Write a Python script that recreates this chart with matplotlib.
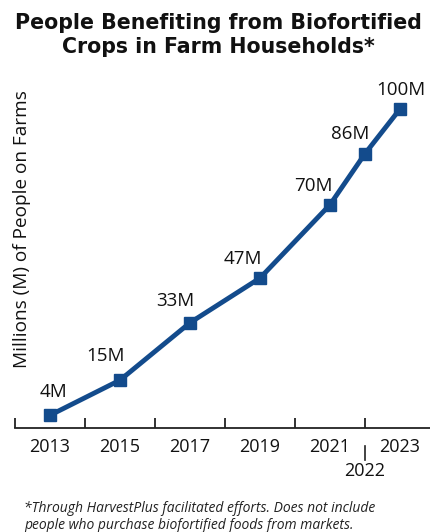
import matplotlib.pyplot as plt
from matplotlib.transforms import blended_transform_factory

years = [2013, 2015, 2017, 2019, 2021, 2022, 2023]
people = [4, 15, 33, 47, 70, 86, 100]
point_labels = ["4M", "15M", "33M", "47M", "70M", "86M", "100M"]
label_offsets = [(3, 23), (-14, 24), (-15, 22), (-17, 19), (-17, 19), (-15, 20), (1, 19)]
odd_years = [2013, 2015, 2017, 2019, 2021, 2023]
even_years = [2012, 2014, 2016, 2018, 2020, 2022]

blue = "#134b8c"
plt.rcParams['font.family'] = ['Open Sans', 'DejaVu Sans']

fig = plt.figure(figsize=(4.3, 5.32), dpi=100)
W, H = 430, 532
ax = fig.add_axes([15 / W, (H - 428) / H, (W - 15) / W, (428 - 80) / H])

ax.plot(years, people, color=blue, lw=3.5, marker='s', ms=8.5, mec=blue, mfc=blue)
for x, y, t, off in zip(years, people, point_labels, label_offsets):
    ax.annotate(t, (x, y), xytext=off, textcoords='offset pixels',
                ha='center', va='center', fontsize=13.5, color='#111111')

ax.set_xlim(2012, 2012 + (W - 15) / 35)
ax.set_ylim(0, (428 - 80) / 3.19)

for s in ['top', 'right', 'left']:
    ax.spines[s].set_visible(False)
ax.spines['bottom'].set_linewidth(1.3)
ax.spines['bottom'].set_color('#222222')
ax.set_yticks([])

ax.set_xticks(even_years)
ax.set_xticklabels([])
ax.tick_params(axis='x', which='major', direction='in', length=7, width=1.3, color='#222222')
ax.set_xticks(odd_years, minor=True)
ax.set_xticklabels([str(y) for y in odd_years], minor=True)
ax.tick_params(axis='x', which='minor', length=0, pad=7, labelsize=13, labelcolor='#111111')

tr = blended_transform_factory(ax.transData, fig.transFigure)
ax.plot([2022, 2022], [(H - 446) / H, (H - 460) / H], transform=tr, color='#222222',
        lw=1.2, clip_on=False)
ax.text(2022, (H - 471) / H, "2022", transform=tr, ha='center', va='center',
        fontsize=13, color='#111111')

fig.text(22 / W, 1 - 229 / H, "Millions (M) of People on Farms", rotation=90,
         ha='center', va='center', fontsize=13.7, color='#111111')

fig.text(218 / W, 1 - 35 / H, "People Benefiting from Biofortified\nCrops in Farm Households*",
         ha='center', va='center', fontsize=14.8, fontweight='bold', linespacing=1.22,
         color='#111111', family='DejaVu Sans')

fig.text(24 / W, 1 - 517 / H,
         "*Through HarvestPlus facilitated efforts. Does not include\n"
         "people who purchase biofortified foods from markets.",
         ha='left', va='center', fontsize=10, style='italic', color='#222222',
         linespacing=1.15)

fig.savefig("out.png", dpi=100)
